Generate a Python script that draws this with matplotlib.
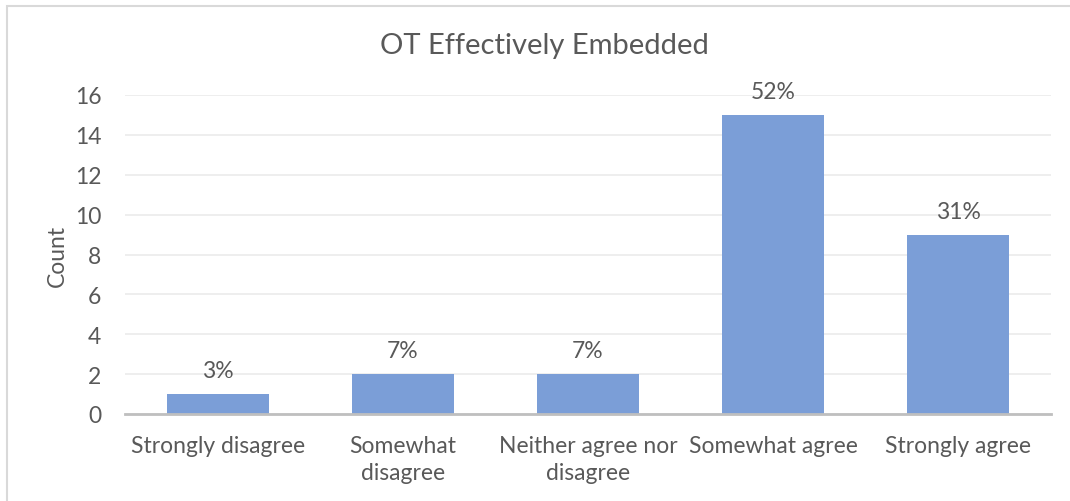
import matplotlib
matplotlib.use("Agg")
import matplotlib.pyplot as plt
from matplotlib.patches import Rectangle

categories = ["Strongly disagree", "Somewhat\ndisagree", "Neither agree nor\ndisagree",
              "Somewhat agree", "Strongly agree"]
counts = [1, 2, 2, 15, 9]
pct_labels = ["3%", "7%", "7%", "52%", "31%"]
y_ticks = [0, 2, 4, 6, 8, 10, 12, 14, 16]

TEXT = "#595959"
BAR = "#7B9ED7"
FS = 16.5

plt.rcParams["font.family"] = ["Lato", "DejaVu Sans"]

W, H = 1070, 502
fig = plt.figure(figsize=(W / 100, H / 100), dpi=100)

# outer chart frame (only top/left edges visible in the picture)
fig.patches.append(Rectangle((7 / W, -0.1), 1.2, 1.1 - 7 / H,
                             transform=fig.transFigure, fill=False,
                             edgecolor="#D9D9D9", linewidth=1.5))

left, right = 125, 1051
top, bottom = 96, 415
ax = fig.add_axes([left / W, (H - bottom) / H, (right - left) / W, (bottom - top) / H])

x = range(len(categories))
ax.bar(x, counts, width=0.55, color=BAR, zorder=3)
for xi, c, lab in zip(x, counts, pct_labels):
    ax.text(xi, c + 0.65, lab, ha="center", va="bottom", fontsize=FS, color=TEXT)

ax.set_xlim(-0.5, len(categories) - 0.5)
ax.set_ylim(0, 16)
ax.set_yticks(y_ticks)
ax.set_xticks(list(x))
ax.set_xticklabels(categories, fontsize=FS, color=TEXT, linespacing=1.35)
ax.tick_params(axis="y", labelsize=FS, labelcolor=TEXT, length=0, pad=17)
ax.tick_params(axis="x", length=0, pad=15)

ax.grid(axis="y", color="#EBEBEB", linewidth=1.2, zorder=0)
for s in ["top", "right", "left"]:
    ax.spines[s].set_visible(False)
ax.spines["bottom"].set_color("#BFBFBF")
ax.spines["bottom"].set_linewidth(2)
ax.spines["bottom"].set_zorder(4)

ax.set_ylabel("Count", fontsize=FS, color=TEXT, labelpad=5)
fig.text(544 / W, (H - 46) / H, "OT Effectively Embedded", ha="center", va="center",
         fontsize=21, color=TEXT)

fig.savefig("out.png", dpi=100)
